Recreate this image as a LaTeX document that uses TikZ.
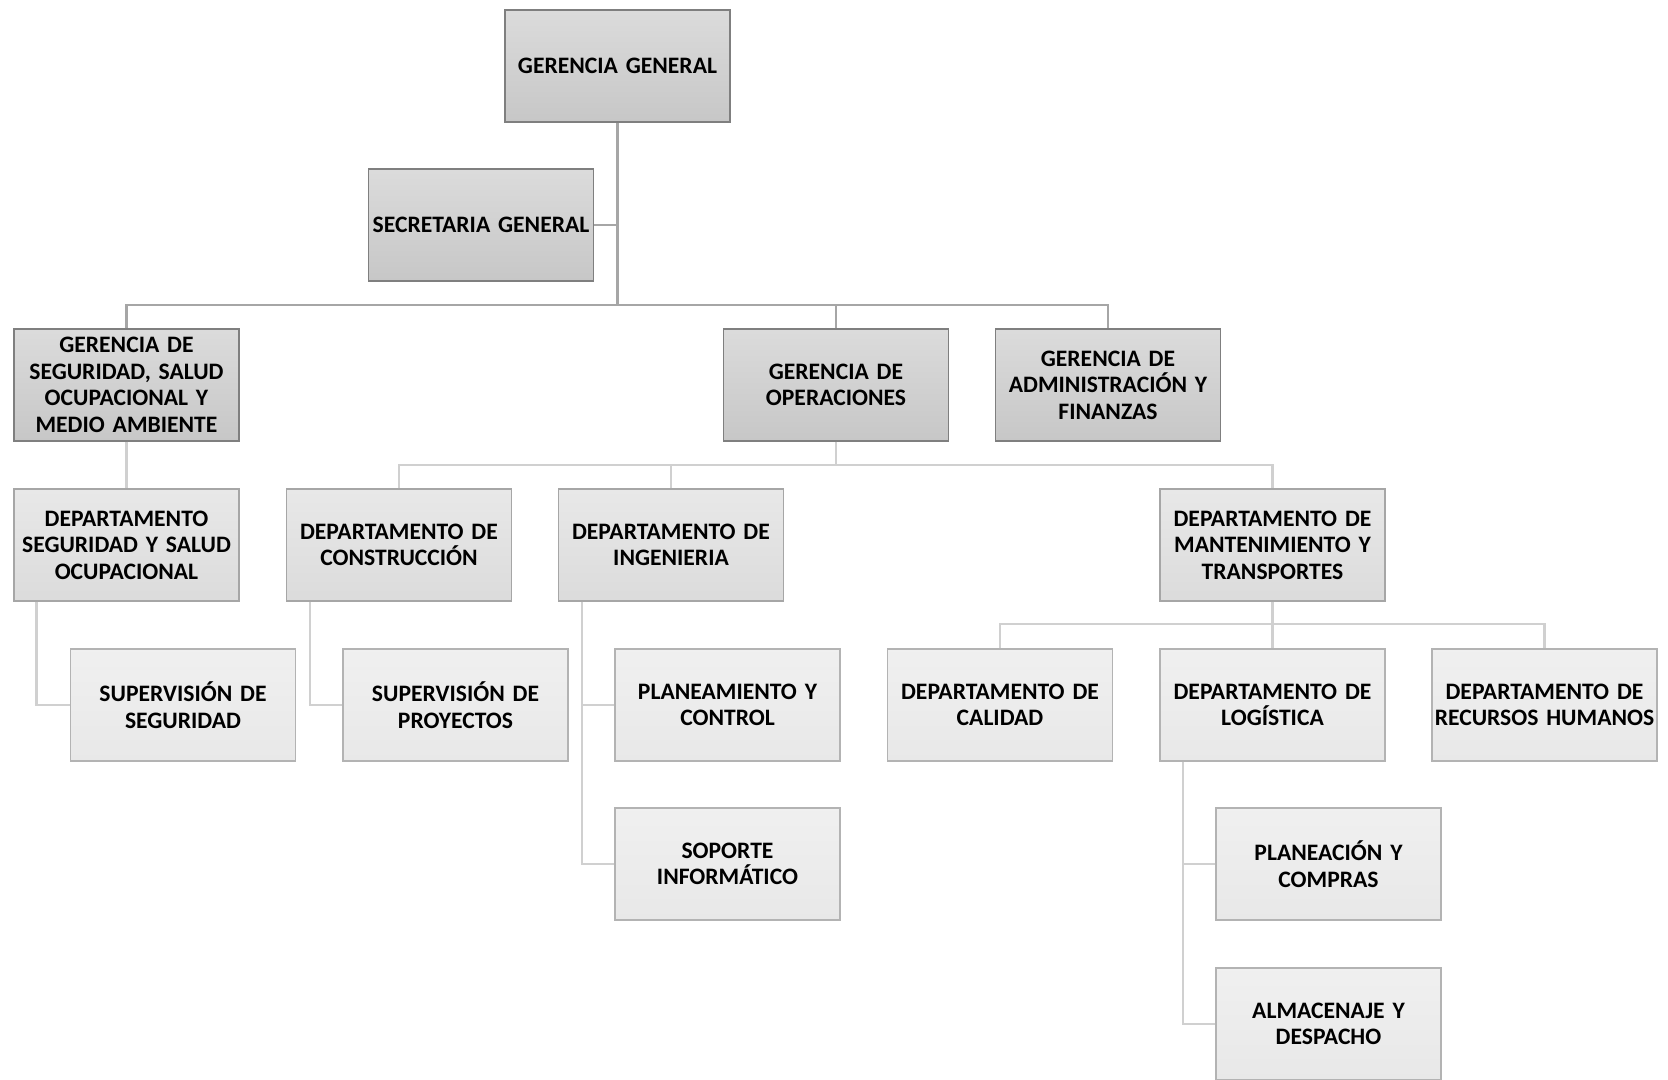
\documentclass[tikz,border=0pt]{standalone}
\usepackage{fontspec}
\setmainfont{Carlito}
\usetikzlibrary{calc}
\definecolor{lineTop}{HTML}{A6A6A6}
\definecolor{lineLow}{HTML}{D0D0D0}
\definecolor{edgeTop}{HTML}{7F7F7F}
\definecolor{edgeLow}{HTML}{A6A6A6}
\begin{document}
\begin{tikzpicture}[x=1pt,y=-1pt,
  box/.style={rectangle, minimum width=225pt, minimum height=112pt, inner xsep=0pt, inner ysep=2pt,
    align=center, font=\fontsize{23.6}{26.6}\selectfont\bfseries, text width=225pt},
  lvA/.style={box, draw=edgeTop, line width=1.3pt, top color=black!14, bottom color=black!22},
  lvB/.style={box, draw=edgeLow, line width=1.3pt, top color=black!9, bottom color=black!14},
  lvC/.style={box, draw=edgeLow!85, line width=1.3pt, top color=black!6, bottom color=black!9},
  topln/.style={draw=lineTop, line width=2.6pt},
  lowln/.style={draw=lineLow, line width=2.6pt}]
\useasboundingbox (0,0) rectangle (1668,1079);

% top management
\node[lvA] (gg)  at (617.5,66) {GERENCIA GENERAL};
\node[lvA] (sec) at (481,225) {SECRETARIA GENERAL};

% second level
\node[lvA] (gs)  at (126.5,385) {GERENCIA DE\\SEGURIDAD, SALUD\\OCUPACIONAL Y\\MEDIO AMBIENTE};
\node[lvA] (ops) at (836,385) {GERENCIA DE\\OPERACIONES};
\node[lvA] (adm) at (1108,385) {GERENCIA DE\\ADMINISTRACIÓN Y\\FINANZAS};

% departments
\node[lvB] (ds)  at (126.5,545) {DEPARTAMENTO\\SEGURIDAD Y SALUD\\OCUPACIONAL};
\node[lvB] (dc)  at (399,545) {DEPARTAMENTO DE\\CONSTRUCCIÓN};
\node[lvB] (di)  at (671,545) {DEPARTAMENTO DE\\INGENIERIA};
\node[lvB] (dm)  at (1272.5,545) {DEPARTAMENTO DE\\MANTENIMIENTO Y\\TRANSPORTES};

% fourth level
\node[lvC] (sseg) at (183,705) {SUPERVISIÓN DE\\SEGURIDAD};
\node[lvC] (spro) at (455.5,705) {SUPERVISIÓN DE\\PROYECTOS};
\node[lvC] (pla)  at (727.5,705) {PLANEAMIENTO Y\\CONTROL};
\node[lvC] (cal)  at (1000,705) {DEPARTAMENTO DE\\CALIDAD};
\node[lvC] (log)  at (1272.5,705) {DEPARTAMENTO DE\\LOGÍSTICA};
\node[lvC] (rrhh) at (1544.5,705) {DEPARTAMENTO DE\\RECURSOS HUMANOS};

% fifth level
\node[lvC] (sop)  at (727.5,864) {SOPORTE\\INFORMÁTICO};
\node[lvC] (pc)   at (1328.5,864) {PLANEACIÓN Y\\COMPRAS};
\node[lvC] (alm)  at (1328.5,1024) {ALMACENAJE Y\\DESPACHO};

% bus coordinates
\coordinate (busA) at (617.5,305);
\coordinate (busB) at (836,465);
\coordinate (busC) at (1272.5,624);

% top connectors
\draw[topln] (gg.south) -- (busA);
\draw[topln] (sec.east) -- (sec.east -| gg.south);
\draw[topln] (gs.north) |- (busA) -| (adm.north);
\draw[topln] (ops.north) -- (ops.north |- busA);

% department connectors
\draw[lowln] (gs.south) -- (ds.north);
\draw[lowln] (ops.south) -- (busB);
\draw[lowln] (dc.north) |- (busB) -| (dm.north);
\draw[lowln] (di.north) -- (di.north |- busB);

% fourth level connectors
\draw[lowln] (dm.south) -- (log.north);
\draw[lowln] (cal.north) |- (busC) -| (rrhh.north);
\draw[lowln] ([xshift=23pt]ds.south west) |- (sseg.west);
\draw[lowln] ([xshift=24pt]dc.south west) |- (spro.west);
\coordinate (ingL) at ([xshift=24pt]di.south west);
\draw[lowln] (ingL) |- (sop.west);
\draw[lowln] (pla.west) -- (pla.west -| ingL);
\coordinate (logL) at ([xshift=23.5pt]log.south west);
\draw[lowln] (logL) |- (alm.west);
\draw[lowln] (pc.west) -- (pc.west -| logL);
\end{tikzpicture}
\end{document}
